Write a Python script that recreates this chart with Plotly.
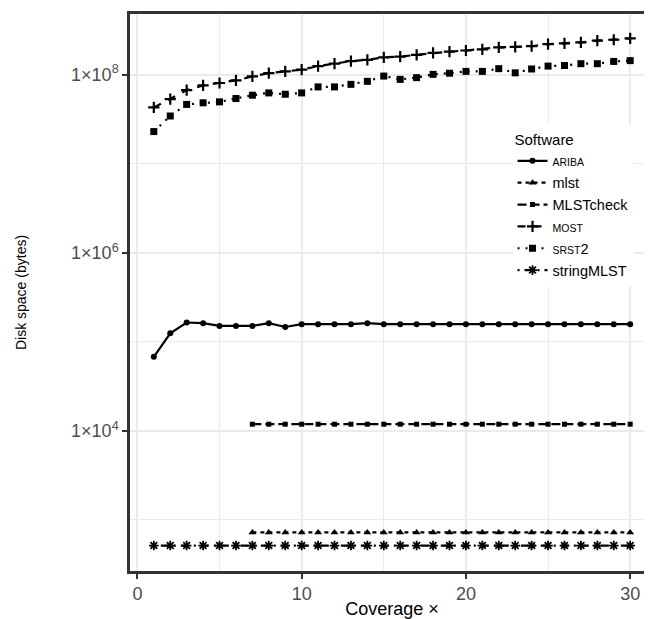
import plotly.graph_objects as go

coverage = list(range(1, 31))
coverage_from7 = list(range(7, 31))

ariba = [6.8e4, 1.25e5, 1.65e5, 1.62e5, 1.51e5, 1.51e5, 1.51e5, 1.62e5, 1.47e5, 1.58e5,
         1.58e5, 1.58e5, 1.58e5, 1.62e5, 1.58e5, 1.58e5, 1.58e5, 1.58e5, 1.58e5, 1.58e5,
         1.58e5, 1.58e5, 1.58e5, 1.58e5, 1.58e5, 1.58e5, 1.58e5, 1.58e5, 1.58e5, 1.58e5]
mlst = [725] * 24
mlstcheck = [1.19e4] * 24
most = [4.30e7, 5.31e7, 6.70e7, 7.60e7, 8.07e7, 8.65e7, 9.58e7, 1.04e8, 1.09e8, 1.14e8,
        1.25e8, 1.33e8, 1.42e8, 1.47e8, 1.57e8, 1.60e8, 1.67e8, 1.76e8, 1.82e8, 1.87e8,
        1.93e8, 2.03e8, 2.05e8, 2.09e8, 2.21e8, 2.25e8, 2.31e8, 2.41e8, 2.47e8, 2.56e8]
srst2 = [2.30e7, 3.44e7, 4.64e7, 4.84e7, 4.96e7, 5.41e7, 5.89e7, 6.25e7, 6.04e7, 6.25e7,
         7.30e7, 7.30e7, 7.80e7, 8.43e7, 9.66e7, 8.87e7, 9.27e7, 1.01e8, 1.04e8, 1.09e8,
         1.09e8, 1.17e8, 1.05e8, 1.16e8, 1.25e8, 1.27e8, 1.33e8, 1.33e8, 1.41e8, 1.44e8]
stringmlst = [516] * 30

ytick_vals = [1e4, 1e6, 1e8]
ytick_text = ["1×10<sup>4</sup>", "1×10<sup>6</sup>", "1×10<sup>8</sup>"]
yminor_vals = [1e3, 1e5, 1e7]
xtick_vals = [0, 10, 20, 30]
xminor_vals = [5, 15, 25]

FONT = "Liberation Sans, Arial, Helvetica, sans-serif"
SC = "<span style='font-size:10.5px'>{}</span>"

series = [
    (SC.format("ARIBA"), coverage, ariba, "solid", "circle", 6, 0),
    ("mlst", coverage_from7, mlst, "4px,4px", "triangle-up", 7, 0),
    ("MLSTcheck", coverage_from7, mlstcheck, "9px,4px", "square", 5, 0),
    (SC.format("MOST"), coverage, most, "8px,8px", "cross-thin-open", 8, 2.2),
    (SC.format("SRST") + "2", coverage, srst2, "2px,6px", "square", 7, 0),
    ("stringMLST", coverage, stringmlst, "2px,5px,8px,5px", "asterisk-open", 8, 1.8),
]

fig = go.Figure()
for name, xs, ys, dash, sym, size, lw in series:
    fig.add_trace(go.Scatter(
        x=xs, y=ys, name=name, mode="lines+markers",
        line=dict(color="black", width=2.2, dash=dash),
        marker=dict(symbol=sym, size=size, color="black",
                    line=dict(color="black", width=lw)),
    ))

fig.update_layout(
    width=652, height=619,
    margin=dict(l=122, r=3, t=3, b=56),
    plot_bgcolor="white", paper_bgcolor="white",
    font=dict(family=FONT, color="black"),
    legend=dict(
        x=0.73, y=0.80, xanchor="left", yanchor="top",
        bgcolor="white", borderwidth=0,
        font=dict(size=14.5, color="black", family=FONT),
        title=dict(text="Software", font=dict(size=15, color="black")),
        tracegroupgap=0, itemwidth=30,
    ),
)

fig.update_xaxes(
    range=[-0.45, 31.45],
    tickmode="array", tickvals=xtick_vals,
    ticks="outside", ticklen=5, tickwidth=1.5, tickcolor="#333333",
    tickfont=dict(size=18, color="#4D4D4D"),
    showgrid=True, gridcolor="#EBEBEB", gridwidth=1.6,
    minor=dict(tickmode="array", tickvals=xminor_vals, showgrid=True,
               gridcolor="#EBEBEB", gridwidth=0.8, ticks=""),
    showline=True, linecolor="#333333", linewidth=2.5, mirror=True,
    zeroline=False,
    title=dict(text="Coverage ×", font=dict(size=18, color="black"), standoff=0),
)

fig.update_yaxes(
    type="log", range=[2.427, 8.682],
    tickmode="array", tickvals=ytick_vals, ticktext=ytick_text,
    ticks="outside", ticklen=5, tickwidth=1.5, tickcolor="#333333",
    tickfont=dict(size=18, color="#4D4D4D"),
    showgrid=True, gridcolor="#EBEBEB", gridwidth=1.6,
    minor=dict(tickmode="array", tickvals=yminor_vals, showgrid=True,
               gridcolor="#EBEBEB", gridwidth=0.8, ticks=""),
    showline=True, linecolor="#333333", linewidth=2.5, mirror=True,
    zeroline=False,
    title=dict(text="Disk space (bytes)", font=dict(size=14, color="black"), standoff=42),
)

fig.write_html("out.html")
